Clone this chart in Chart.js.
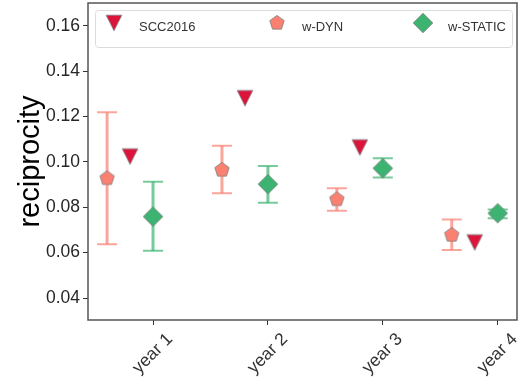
<!DOCTYPE html>
<html>
<head>
<meta charset="utf-8">
<script src="https://cdn.jsdelivr.net/npm/chart.js@4"></script>
<style>
body { margin: 0; background: #fff; }
#wrap { width: 526px; height: 380px; }
</style>
</head>
<body>
<div id="wrap"><canvas id="graf_recip"></canvas></div>
<script>
// datos
const years = ['year 1', 'year 2', 'year 3', 'year 4'];
const scc2016 = [0.1024, 0.1281, 0.1064, 0.0645];
const wDyn = [0.0928, 0.0965, 0.0835, 0.0678];
const wDynLow = [0.0637, 0.0862, 0.0785, 0.0612];
const wDynHigh = [0.1219, 0.1072, 0.0884, 0.0746];
const wStatic = [0.0759, 0.0902, 0.0972, 0.0774];
const wStaticLow = [0.0608, 0.0820, 0.0931, 0.0752];
const wStaticHigh = [0.0913, 0.0982, 0.1016, 0.0790];
const yTicks = [0.04, 0.06, 0.08, 0.10, 0.12, 0.14, 0.16];

Chart.defaults.font.family = "'Liberation Sans', Arial, sans-serif";

/**
 * marcadores estilo matplotlib (v, p, D)
 */
function marcador(tipo, fill, size) {
    const c = document.createElement('canvas');
    c.width = size;
    c.height = size;
    const g = c.getContext('2d');
    const m = size / 2;
    g.beginPath();
    if (tipo === 'v') {
        const h = 7.8;
        g.moveTo(m - h, m - h);
        g.lineTo(m + h, m - h);
        g.lineTo(m, m + h);
    } else if (tipo === 'p') {
        const r = 7.6;
        for (let k = 0; k < 5; k++) {
            const a = -Math.PI / 2 + k * 2 * Math.PI / 5;
            const px = m + r * Math.cos(a), py = m + r * Math.sin(a);
            if (k === 0) g.moveTo(px, py); else g.lineTo(px, py);
        }
    } else {
        const h = 9.8;
        g.moveTo(m, m - h);
        g.lineTo(m + h, m);
        g.lineTo(m, m + h);
        g.lineTo(m - h, m);
    }
    g.closePath();
    g.fillStyle = fill;
    g.fill();
    g.strokeStyle = '#808080';
    g.lineWidth = 0.8;
    g.stroke();
    return c;
}

const mkScc = marcador('v', '#dc143c', 20);
const mkDyn = marcador('p', '#fa8072', 20);
const mkStatic = marcador('D', '#3cb371', 24);

// barras de error dibujadas con las escalas del chart
const barrasError = {
    id: 'barrasError',
    beforeDatasetsDraw(chart) {
        const { ctx, scales: { x, y } } = chart;
        chart.data.datasets.forEach(ds => {
            if (!ds.errLow) return;
            ctx.save();
            ctx.strokeStyle = ds.errColor;
            ds.data.forEach((p, j) => {
                const px = x.getPixelForValue(p.x);
                const y1 = y.getPixelForValue(ds.errLow[j]);
                const y2 = y.getPixelForValue(ds.errHigh[j]);
                ctx.lineWidth = 3;
                ctx.beginPath();
                ctx.moveTo(px, y1);
                ctx.lineTo(px, y2);
                ctx.stroke();
                ctx.lineWidth = 2;
                ctx.beginPath();
                ctx.moveTo(px - 10, y1);
                ctx.lineTo(px + 10, y1);
                ctx.moveTo(px - 10, y2);
                ctx.lineTo(px + 10, y2);
                ctx.stroke();
            });
            ctx.restore();
        });
    }
};

// marco y leyenda dentro del area
const marcoLeyenda = {
    id: 'marcoLeyenda',
    afterDraw(chart) {
        const { ctx, chartArea: a } = chart;
        ctx.save();
        ctx.strokeStyle = '#555';
        ctx.lineWidth = 1.5;
        ctx.strokeRect(a.left, a.top, a.right - a.left, a.bottom - a.top);

        const bx = a.left + 7.5, by = a.top + 7.5, bw = a.right - a.left - 12, bh = 37;
        ctx.strokeStyle = '#dcdcdc';
        ctx.lineWidth = 1;
        ctx.beginPath();
        ctx.roundRect(bx, by, bw, bh, 3);
        ctx.stroke();

        const cols = [26, 189, 335];
        const gap = 25;
        ctx.font = "13px 'Liberation Sans', Arial, sans-serif";
        ctx.fillStyle = '#333';
        ctx.textBaseline = 'middle';
        chart.data.datasets.forEach((ds, i) => {
            const mx = a.left + cols[i];
            const img = ds.pointStyle;
            ctx.drawImage(img, mx - img.width / 2, a.top + 20 - img.height / 2);
            ctx.fillText(ds.label, mx + gap, a.top + 24);
        });
        ctx.restore();
    }
};

const ctx = document.getElementById('graf_recip').getContext('2d');
const chartRecip = new Chart(ctx, {
    type: 'scatter',
    data: {
        datasets: [{
            label: 'SCC2016',
            data: scc2016.map((v, i) => ({ x: i + 1 - 0.2, y: v })),
            pointStyle: mkScc,
            pointRadius: 8
        }, {
            label: 'w-DYN',
            data: wDyn.map((v, i) => ({ x: i + 1 - 0.4, y: v })),
            errLow: wDynLow,
            errHigh: wDynHigh,
            errColor: 'rgba(250,128,114,0.7)',
            pointStyle: mkDyn,
            pointRadius: 8
        }, {
            label: 'w-STATIC',
            data: wStatic.map((v, i) => ({ x: i + 1, y: v })),
            errLow: wStaticLow,
            errHigh: wStaticHigh,
            errColor: 'rgba(60,179,113,0.7)',
            pointStyle: mkStatic,
            pointRadius: 10
        }]
    },
    options: {
        responsive: true,
        maintainAspectRatio: false,
        animation: false,
        layout: { autoPadding: false, padding: { top: 3, right: 9, left: 0, bottom: 0 } },
        plugins: {
            legend: { display: false },
            tooltip: { enabled: false }
        },
        scales: {
            x: {
                type: 'linear',
                min: 0.434,
                max: 4.168,
                afterBuildTicks: s => { s.ticks = years.map((t, i) => ({ value: i + 1 })); },
                afterFit: s => { s.height = 60; s.paddingLeft = 0; s.paddingRight = 0; },
                ticks: {
                    callback: v => years[Math.round(v) - 1],
                    minRotation: 45,
                    maxRotation: 45,
                    autoSkip: false,
                    labelOffset: 17,
                    padding: 4,
                    color: '#333',
                    font: { size: 17.5 }
                },
                grid: { drawOnChartArea: false, drawTicks: true, tickLength: 5, color: '#333' },
                border: { display: false }
            },
            y: {
                min: 0.0303,
                max: 0.1701,
                afterBuildTicks: s => { s.ticks = yTicks.map(v => ({ value: v })); },
                afterFit: s => { s.width = 88; s.paddingTop = 0; s.paddingBottom = 0; },
                ticks: {
                    callback: v => v.toFixed(2),
                    padding: 3,
                    color: '#262626',
                    font: { size: 17.5 }
                },
                grid: { drawOnChartArea: false, drawTicks: true, tickLength: 5, color: '#333' },
                border: { display: false },
                title: {
                    display: true,
                    text: 'reciprocity',
                    color: '#000',
                    font: { size: 29 },
                    padding: { top: 14, bottom: 0 }
                }
            }
        }
    },
    plugins: [barrasError, marcoLeyenda]
});
</script>
</body>
</html>
